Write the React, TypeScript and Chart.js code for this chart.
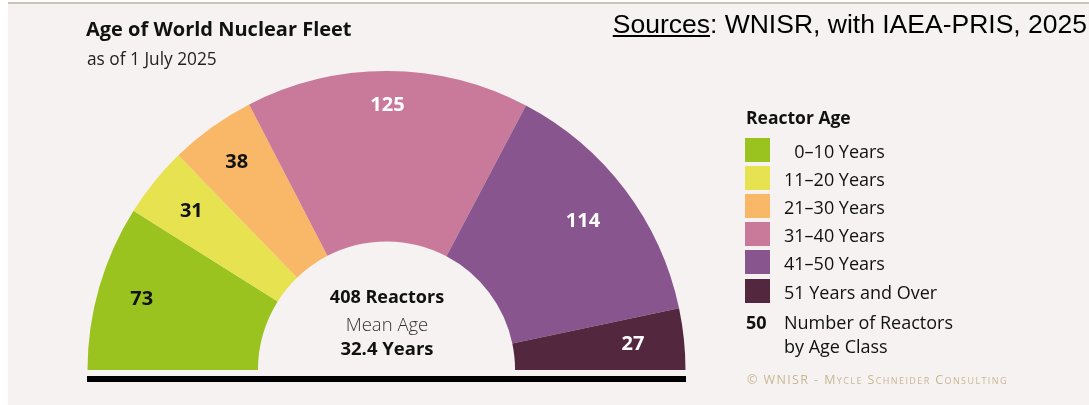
import React, { useEffect, useRef } from 'react';
import { Chart, registerables } from 'chart.js';
Chart.register(...registerables);

const categories = ['\u20070\u201310 Years', '11\u201320 Years', '21\u201330 Years', '31\u201340 Years', '41\u201350 Years', '51 Years and Over'];
const reactorCounts = [73, 31, 38, 125, 114, 27];
const segmentColors = ['#9ac31f', '#e6e250', '#f8b867', '#c9799a', '#88558e', '#53283e'];
const labelColors = ['#111111', '#111111', '#111111', '#ffffff', '#ffffff', '#ffffff'];
// where each count sits between the inner (0) and outer (1) edge of its segment
const labelDepth = [0.74, 0.72, 0.75, 0.80, 0.69, 0.70];
const meanAge = '32.4';

const FONT = '"Open Sans", "Noto Sans", sans-serif';

const labelPlugin = {
  id: 'segLabels',
  afterDatasetsDraw(chart: any) {
    const ctx = chart.ctx;
    const meta = chart.getDatasetMeta(0);
    ctx.save();
    ctx.font = `700 20px ${FONT}`;
    ctx.textAlign = 'center';
    ctx.textBaseline = 'middle';
    meta.data.forEach((arc: any, i: number) => {
      const p = arc.getProps(['x', 'y', 'startAngle', 'endAngle', 'innerRadius', 'outerRadius'], true);
      const mid = (p.startAngle + p.endAngle) / 2;
      const r = p.innerRadius + labelDepth[i] * (p.outerRadius - p.innerRadius);
      ctx.fillStyle = labelColors[i];
      ctx.fillText(String(reactorCounts[i]), p.x + Math.cos(mid) * r, p.y + Math.sin(mid) * r);
    });
    ctx.restore();
  },
};

export default function App() {
  const ref = useRef<HTMLCanvasElement>(null);
  useEffect(() => {
    if (!ref.current) return;
    const chart = new Chart(ref.current, {
      type: 'doughnut',
      data: {
        labels: categories,
        datasets: [{ data: reactorCounts, backgroundColor: segmentColors, borderWidth: 0, hoverOffset: 0 }],
      },
      options: {
        responsive: false,
        animation: false,
        rotation: -90,
        circumference: 180,
        cutout: '43%',
        layout: { padding: { left: 87, right: 403, top: 71, bottom: 35 } },
        plugins: { legend: { display: false }, tooltip: { enabled: false } },
        events: [],
      },
      plugins: [labelPlugin],
    });
    return () => chart.destroy();
  }, []);

  const total = reactorCounts.reduce((a, b) => a + b, 0);
  const abs = (x: number, y: number, extra: React.CSSProperties = {}): React.CSSProperties => ({
    position: 'absolute', left: x, top: y, whiteSpace: 'nowrap', fontFamily: FONT, color: '#111', ...extra,
  });

  return (
    <div style={{ position: 'fixed', left: 0, top: 0, width: 1089, height: 405, background: '#ffffff', overflow: 'hidden' }}>
      <div style={{ position: 'absolute', left: 8, top: 2, width: 1081, height: 401, background: '#f6f2f1', borderTop: '2px solid #cbc2b8' }} />
      <canvas ref={ref} width={1089} height={405} style={{ position: 'absolute', left: 0, top: 0 }} />
      {/* bottom bar */}
      <div style={{ position: 'absolute', left: 87, top: 376, width: 599, height: 6, background: '#000' }} />
      {/* title */}
      <div style={abs(86, 15, { fontSize: 20, fontWeight: 700, lineHeight: '28px' })}>Age of World Nuclear Fleet</div>
      <div style={abs(87, 47, { fontSize: 17.3, lineHeight: '24px', color: '#222' })}>as of 1 July 2025</div>
      {/* sources */}
      <div style={{ position: 'absolute', right: 2, top: 8, whiteSpace: 'nowrap', fontFamily: '"Liberation Sans", Arial, sans-serif', fontSize: 26.5, lineHeight: '32px', color: '#000' }}>
        <span style={{ textDecoration: 'underline' }}>Sources</span>: WNISR, with IAEA-PRIS, 2025
      </div>
      {/* center text */}
      <div style={{ position: 'absolute', left: 287, width: 200, top: 284, textAlign: 'center', fontFamily: FONT, color: '#111' }}>
        <div style={{ fontSize: 18, fontWeight: 700, lineHeight: '24px' }}>{total} Reactors</div>
        <div style={{ fontSize: 18.5, fontWeight: 300, lineHeight: '24px', color: '#333', marginTop: 4 }}>Mean Age</div>
        <div style={{ fontSize: 18.5, fontWeight: 700, lineHeight: '24px', marginTop: 0 }}>{meanAge} Years</div>
      </div>
      {/* legend */}
      <div style={abs(746, 104, { fontSize: 17.5, fontWeight: 700, lineHeight: '26px' })}>Reactor Age</div>
      {categories.map((c, i) => (
        <React.Fragment key={c}>
          <div style={{ position: 'absolute', left: 745, top: 138 + i * 28.1, width: 25, height: 24, background: segmentColors[i] }} />
          <div style={abs(784, 138 + i * 28.1, { fontSize: 18, lineHeight: '26px' })}>{c}</div>
        </React.Fragment>
      ))}
      <div style={abs(746, 309, { fontSize: 18, fontWeight: 700, lineHeight: '26px' })}>50</div>
      <div style={abs(784, 309, { fontSize: 18, lineHeight: '26px' })}>Number of Reactors</div>
      <div style={abs(784, 333, { fontSize: 18, lineHeight: '26px' })}>by Age Class</div>
      <div style={abs(747, 371, { fontSize: 12.5, lineHeight: '18px', fontVariant: 'small-caps', letterSpacing: 1.4, color: '#c7b793' })}>© WNISR - Mycle Schneider Consulting</div>
    </div>
  );
}
